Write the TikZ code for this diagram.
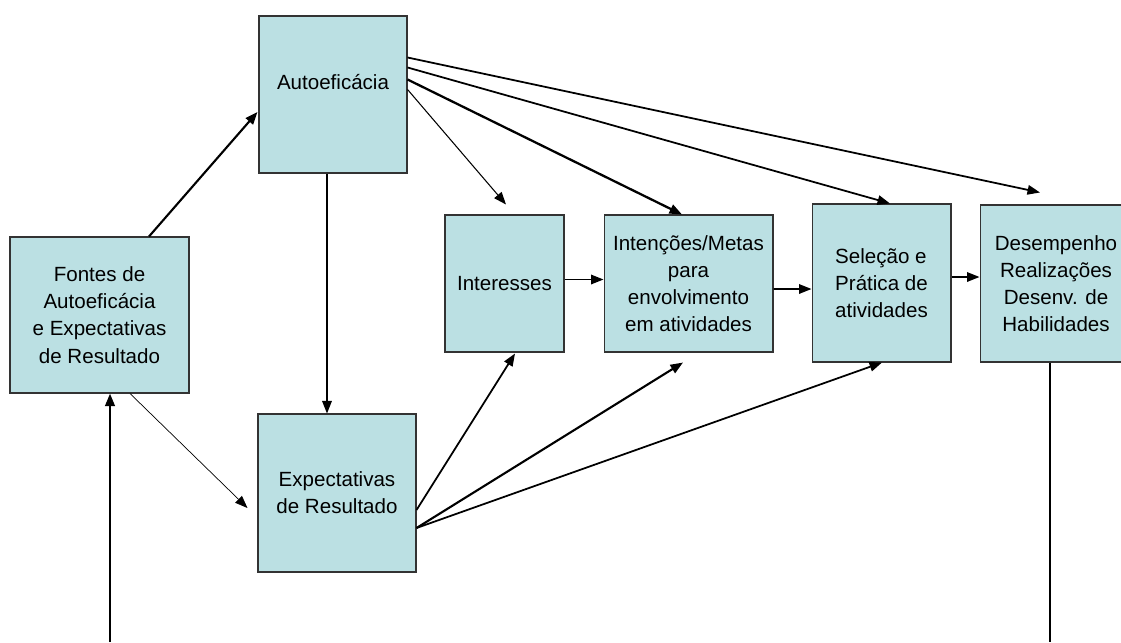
\documentclass[tikz,border=0pt]{standalone}
\usepackage{fontspec}
\setmainfont{Liberation Sans}
\usetikzlibrary{arrows.meta,calc}
\definecolor{boxfill}{RGB}{187,224,227}

\begin{document}
\begin{tikzpicture}[x=0.02cm, y=-0.02cm,
                    box node/.style={rectangle,draw=black!80,line width=0.6pt,fill=boxfill,
                                     inner sep=0pt,align=center,font=\fontsize{11.7}{15.5}\selectfont},
                    arrow line/.style={-{Triangle[length=0.25cm,width=0.19cm]},line width=1pt}]

  \clip (0,0) rectangle (1121,642);

  \node[box node,minimum width=3.58cm,minimum height=3.12cm] (fontes) at (99.5,315) {Fontes de\\Autoeficácia\\e Expectativas\\de Resultado};
  \node[box node,minimum width=2.96cm,minimum height=3.14cm,
        label={[font=\fontsize{11.7}{15.5}\selectfont,yshift=0.24cm]center:Autoeficácia}] (auto) at (333,94.5) {};
  \node[box node,minimum width=3.16cm,minimum height=3.16cm] (expect) at (337,493) {Expectativas\\de Resultado};
  \node[box node,minimum width=2.38cm,minimum height=2.74cm] (inter) at (504.5,283.5) {Interesses};
  \node[box node,minimum width=3.38cm,minimum height=2.74cm] (inten) at (688.5,283.5) {Intenções/Metas\\para\\envolvimento\\em atividades};
  \node[box node,minimum width=2.78cm,minimum height=3.16cm,align=left] (selec) at (881.5,283) {Seleção e\\Prática de\\atividades};
  \node[box node,minimum width=3.04cm,minimum height=3.14cm] (desemp) at (1056,283.5) {Desempenho\\Realizações\\Desenv. de\\Habilidades};

  \coordinate (fbL) at (110,642);
  \coordinate (fbR) at (1050,642);

  % fontes
  \draw[arrow line,line width=1.2pt] ($(fontes.north)+(49.5,0)$) -- ($(auto.west)+(-1,17.5)$);
  \draw[arrow line,line width=0.4pt] ($(fontes.south)+(30.5,0)$) -- ($(expect.west)+(-10,15)$);

  % autoeficacia
  \draw[arrow line,line width=0.9pt] ($(auto.south)+(-6,0)$) -- ($(expect.north)+(-10,0)$);
  \draw[arrow line,line width=0.6pt] ($(auto.north east)+(0,74)$) -- ($(inter.north)+(1.5,-10)$);
  \draw[arrow line,line width=1.3pt] ($(auto.north east)+(0,64)$) -- ($(inten.north)+(-6.5,0)$);
  \draw[arrow line] ($(auto.north east)+(0,52)$) -- ($(selec.north)+(8.5,0)$);
  \draw[arrow line] ($(auto.north east)+(0,42)$) -- ($(desemp.north)+(-16,-12)$);

  % chain
  \draw[arrow line] ($(inter.east)+(0,-4)$) -- ($(inten.west)+(0,-4)$);
  \draw[arrow line] ($(inten.east)+(0,5.5)$) -- ($(selec.west)+(0,6)$);
  \draw[arrow line] ($(selec.east)+(0,-6)$) -- ($(desemp.west)+(0,-6.5)$);

  % expectativas
  \draw[arrow line] ($(expect.east)+(0,17)$) -- ($(inter.south)+(10.5,1)$);
  \draw[arrow line,line width=1.2pt] ($(expect.east)+(0,35)$) -- ($(inten.south)+(-5.5,10)$);
  \draw[arrow line] ($(expect.east)+(0,35)$) -- ($(selec.south)+(0.5,0)$);

  % feedback
  \draw[line width=0.6pt] (desemp.south -| fbR) -- (fbR);
  \draw[arrow line,line width=1.4pt] (fbL) -- (fontes.south -| fbL);

\end{tikzpicture}
\end{document}
